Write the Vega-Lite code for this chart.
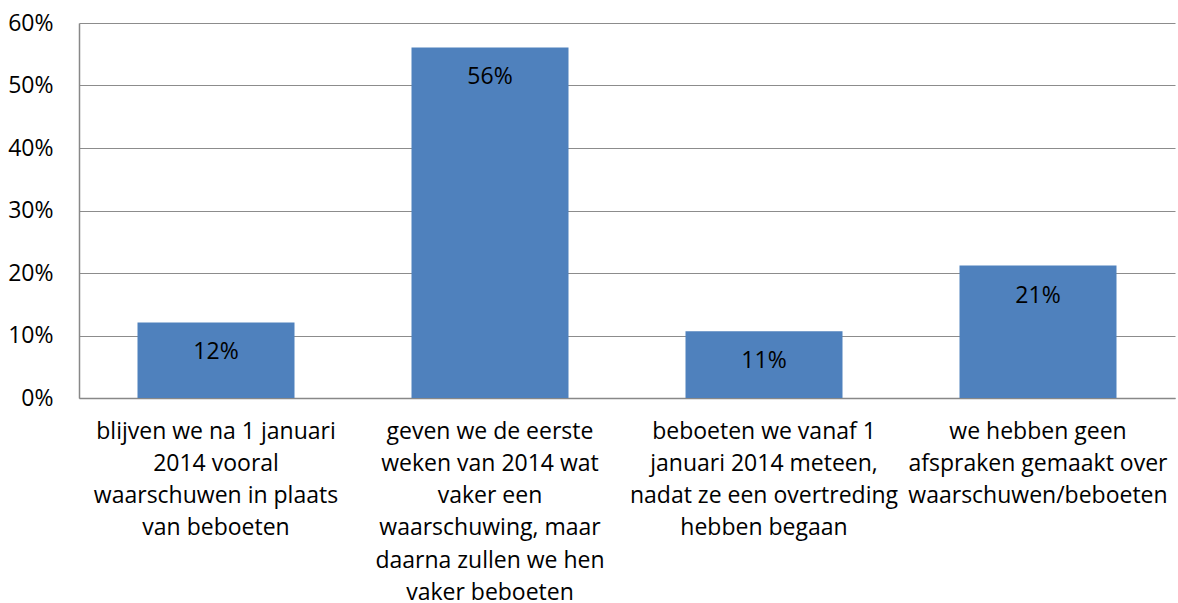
{
  "$schema": "https://vega.github.io/schema/vega-lite/v6.json",
  "autosize": "none",
  "width": 1096,
  "height": 375,
  "padding": {"left": 79, "top": 23, "right": 3, "bottom": 205},
  "background": "white",
  "config": {
    "view": {"stroke": null},
    "font": "Open Sans"
  },
  "data": {
    "values": [
      {"cat": "blijven we na 1 januari|2014 vooral|waarschuwen in plaats|van beboeten", "value": 0.121},
      {"cat": "geven we de eerste|weken van 2014 wat|vaker een|waarschuwing, maar|daarna zullen we hen|vaker beboeten", "value": 0.561},
      {"cat": "beboeten we vanaf 1|januari 2014 meteen,|nadat ze een overtreding|hebben begaan", "value": 0.107},
      {"cat": "we hebben geen|afspraken gemaakt over|waarschuwen/beboeten", "value": 0.212}
    ]
  },
  "encoding": {
    "x": {
      "field": "cat",
      "type": "nominal",
      "sort": null,
      "scale": {"paddingInner": 0.427, "paddingOuter": 0.2135},
      "axis": {
        "title": null,
        "labelAngle": 0,
        "labelExpr": "split(datum.label, '|')",
        "labelFontSize": 23,
        "labelColor": "#000000",
        "labelLineHeight": 32.3,
        "labelPadding": 22,
        "labelLimit": 400,
        "labelOverlap": false,
        "ticks": false,
        "domainColor": "#888888",
        "domainWidth": 1.5,
        "labelBaseline": "top"
      }
    }
  },
  "layer": [
    {
      "mark": {"type": "bar", "color": "#4F81BD"},
      "encoding": {
        "y": {
          "field": "value",
          "type": "quantitative",
          "scale": {"domain": [0, 0.6], "nice": false},
          "axis": {
            "title": null,
            "format": ".0%",
            "values": [0, 0.1, 0.2, 0.3, 0.4, 0.5, 0.6],
            "labelFontSize": 23,
            "labelColor": "#000000",
            "labelPadding": 26,
            "ticks": false,
            "domain": true,
            "domainColor": "#888888",
            "domainWidth": 1.5,
            "grid": true,
            "gridColor": "#8c8c8c",
            "gridWidth": 1.2
          }
        }
      }
    },
    {
      "mark": {"type": "text", "baseline": "middle", "align": "center", "dy": 30, "fontSize": 23, "color": "#000000"},
      "encoding": {
        "y": {"field": "value", "type": "quantitative"},
        "text": {"field": "value", "type": "quantitative", "format": ".0%"}
      }
    }
  ]
}
